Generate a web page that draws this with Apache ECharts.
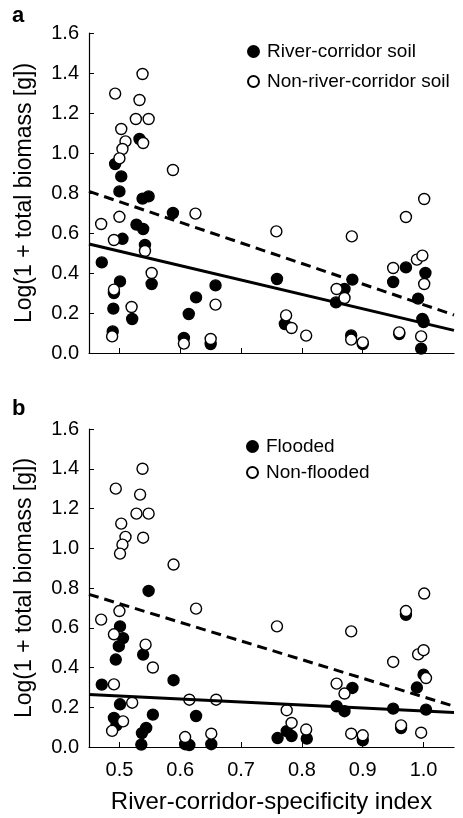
<!DOCTYPE html>
<html><head><meta charset="utf-8">
<script src="https://cdn.jsdelivr.net/npm/echarts@6/dist/echarts.min.js"></script>
<style>html,body{margin:0;padding:0;background:#fff}#c{width:463px;height:818px}</style>
</head><body><div id="c"></div>
<script>
const xTicks = [0.5, 0.6, 0.7, 0.8, 0.9, 1.0];
const namesA = ['River-corridor soil', 'Non-river-corridor soil'];
const namesB = ['Flooded', 'Non-flooded'];
const riverSoil = [[0.533,1.07],[0.493,0.945],[0.503,0.883],[0.500,0.808],[0.538,0.772],[0.548,0.783],[0.588,0.70],[0.528,0.642],[0.539,0.62],[0.505,0.571],[0.542,0.54],[0.471,0.453],[0.501,0.358],[0.553,0.345],[0.491,0.30],[0.490,0.222],[0.521,0.17],[0.489,0.108],[0.626,0.278],[0.614,0.195],[0.606,0.075],[0.658,0.338],[0.650,0.045],[0.759,0.37],[0.772,0.145],[0.856,0.253],[0.870,0.32],[0.883,0.367],[0.881,0.088],[0.900,0.045],[0.950,0.355],[0.971,0.428],[1.003,0.40],[0.991,0.272],[0.998,0.17],[1.0,0.155],[0.996,0.022],[0.960,0.095]];
const nonRiverSoil = [[0.538,1.395],[0.493,1.297],[0.533,1.265],[0.527,1.17],[0.548,1.17],[0.503,1.12],[0.510,1.058],[0.505,1.02],[0.500,0.973],[0.539,1.05],[0.588,0.915],[0.470,0.645],[0.500,0.681],[0.491,0.565],[0.542,0.51],[0.625,0.697],[0.553,0.40],[0.491,0.317],[0.520,0.23],[0.488,0.083],[0.606,0.047],[0.650,0.07],[0.658,0.242],[0.758,0.608],[0.774,0.188],[0.783,0.125],[0.807,0.087],[0.882,0.583],[0.857,0.32],[0.870,0.275],[0.881,0.067],[0.900,0.053],[0.971,0.68],[1.001,0.77],[0.950,0.425],[0.989,0.467],[0.998,0.487],[1.001,0.345],[0.960,0.103],[0.996,0.083]];
const flooded = [[0.548,0.785],[0.501,0.607],[0.506,0.548],[0.499,0.507],[0.494,0.44],[0.539,0.465],[0.471,0.314],[0.589,0.336],[0.501,0.215],[0.491,0.146],[0.495,0.109],[0.555,0.163],[0.544,0.096],[0.537,0.07],[0.536,0.012],[0.626,0.156],[0.608,0.014],[0.615,0.01],[0.651,0.014],[0.760,0.045],[0.775,0.08],[0.783,0.055],[0.808,0.042],[0.883,0.297],[0.857,0.205],[0.870,0.18],[0.900,0.034],[0.950,0.193],[1.004,0.188],[0.989,0.299],[1.000,0.364],[0.971,0.665],[0.963,0.095]];
const nonFlooded = [[0.538,1.40],[0.494,1.30],[0.534,1.27],[0.528,1.174],[0.548,1.174],[0.503,1.124],[0.510,1.057],[0.505,1.018],[0.501,0.973],[0.539,1.053],[0.589,0.918],[0.470,0.641],[0.500,0.684],[0.491,0.567],[0.543,0.515],[0.626,0.696],[0.555,0.40],[0.491,0.315],[0.521,0.223],[0.506,0.129],[0.488,0.081],[0.615,0.238],[0.659,0.238],[0.608,0.05],[0.651,0.067],[0.759,0.607],[0.775,0.185],[0.783,0.121],[0.807,0.088],[0.881,0.582],[0.857,0.319],[0.870,0.269],[0.881,0.067],[0.900,0.059],[0.971,0.684],[1.001,0.772],[0.950,0.428],[0.991,0.466],[1.000,0.487],[1.004,0.347],[0.963,0.109],[0.996,0.072]];
const fitA_dashed = [[0.45,0.808],[1.05,0.19]];
const fitA_solid = [[0.45,0.545],[1.05,0.113]];
const fitB_dashed = [[0.45,0.768],[1.05,0.205]];
const fitB_solid = [[0.45,0.264],[1.05,0.173]];

const FONT = 'Liberation Sans, Arial, sans-serif';
const chart = echarts.init(document.getElementById('c'), null, {renderer: 'canvas'});

function xAxis(idx, showLabels) {
  return {
    type: 'value', gridIndex: idx, min: 0.45, max: 1.05,
    axisLine: {show: true, onZero: false, lineStyle: {color: '#000', width: 1.2}},
    axisTick: {show: true, inside: true, length: 5, customValues: xTicks, lineStyle: {color: '#000'}},
    axisLabel: {show: showLabels, customValues: xTicks, margin: 13, color: '#000', fontSize: 20, fontFamily: FONT, formatter: v => v.toFixed(1)},
    splitLine: {show: false},
    name: showLabels ? 'River-corridor-specificity index' : '',
    nameLocation: 'middle', nameGap: 43,
    nameTextStyle: {color: '#000', fontSize: 24, fontFamily: FONT}
  };
}
function yAxis(idx) {
  return {
    type: 'value', gridIndex: idx, min: 0, max: 1.6, interval: 0.2,
    axisLine: {show: true, onZero: false, lineStyle: {color: '#000', width: 1.2}},
    axisTick: {show: true, inside: true, length: 5, lineStyle: {color: '#000'}},
    axisLabel: {margin: 10, color: '#000', fontSize: 20, fontFamily: FONT, formatter: v => v.toFixed(1)},
    splitLine: {show: false},
    name: 'Log(1 + total biomass [g])', nameLocation: 'middle', nameGap: 53,
    nameTextStyle: {color: '#000', fontSize: 23, fontFamily: FONT}
  };
}
function scatter(name, data, idx, filled) {
  return {
    type: 'scatter', name: name, xAxisIndex: idx, yAxisIndex: idx, data: data,
    symbol: 'circle', symbolSize: 11, z: filled ? 2 : 3,
    itemStyle: {color: filled ? '#000' : '#fff', borderColor: '#000', borderWidth: 1.4, opacity: 1},
    emphasis: {disabled: true}
  };
}
function fit(data, idx, dashed) {
  return {
    type: 'line', xAxisIndex: idx, yAxisIndex: idx, data: data, symbol: 'none', z: 4,
    lineStyle: {color: '#000', width: 3, type: dashed ? [10, 6] : 'solid'},
    emphasis: {disabled: true}, silent: true
  };
}
const legendBase = {
  orient: 'vertical', icon: 'circle', itemWidth: 11, itemHeight: 11, itemGap: 11, padding: 0,
  textStyle: {color: '#000', fontSize: 19, fontFamily: FONT, padding: [0, 0, 0, 3]}, selectedMode: false
};

chart.setOption({
  animation: false,
  grid: [
    {left: 89, top: 33, width: 365, height: 320},
    {left: 89, top: 429, width: 365, height: 318}
  ],
  xAxis: [xAxis(0, false), xAxis(1, true)],
  yAxis: [yAxis(0), yAxis(1)],
  legend: [
    Object.assign({}, legendBase, {data: namesA, left: 247, top: 42}),
    Object.assign({}, legendBase, {data: namesB, left: 246, top: 437, itemGap: 7})
  ],
  graphic: [
    {type: 'text', left: 12, top: 5, style: {text: 'a', fontSize: 22, fontWeight: 'bold', fontFamily: FONT, fill: '#000'}},
    {type: 'text', left: 12, top: 398, style: {text: 'b', fontSize: 22, fontWeight: 'bold', fontFamily: FONT, fill: '#000'}}
  ],
  series: [
    scatter(namesA[0], riverSoil, 0, true),
    scatter(namesA[1], nonRiverSoil, 0, false),
    fit(fitA_dashed, 0, true),
    fit(fitA_solid, 0, false),
    scatter(namesB[0], flooded, 1, true),
    scatter(namesB[1], nonFlooded, 1, false),
    fit(fitB_dashed, 1, true),
    fit(fitB_solid, 1, false)
  ]
});
</script></body></html>
